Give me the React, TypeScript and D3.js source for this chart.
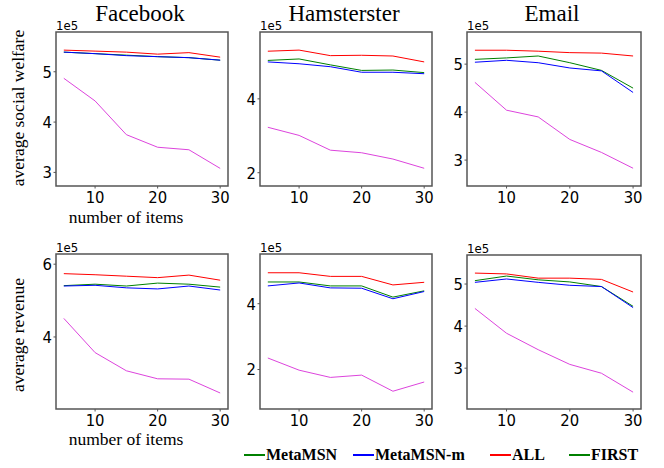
import * as d3 from 'd3'
import React from "react";

const items = [5, 10, 15, 20, 25, 30];

// average social welfare (x1e5)
const fbWelfareAll = [5.43, 5.41, 5.39, 5.35, 5.38, 5.29];
const fbWelfareMeta = [5.39, 5.36, 5.33, 5.30, 5.28, 5.23];
const fbWelfareMetaM = [5.39, 5.36, 5.32, 5.30, 5.28, 5.23];
const fbWelfareOther = [4.87, 4.42, 3.75, 3.50, 3.45, 3.08];

const hamWelfareAll = [5.29, 5.32, 5.17, 5.18, 5.16, 5.00];
const hamWelfareMeta = [5.04, 5.08, 4.92, 4.77, 4.78, 4.71];
const hamWelfareMetaM = [5.00, 4.95, 4.87, 4.72, 4.72, 4.68];
const hamWelfareOther = [3.23, 3.01, 2.61, 2.54, 2.37, 2.12];

const emWelfareAll = [5.29, 5.29, 5.27, 5.24, 5.23, 5.17];
const emWelfareMeta = [5.10, 5.13, 5.17, 5.03, 4.87, 4.50];
const emWelfareMetaM = [5.04, 5.08, 5.03, 4.92, 4.86, 4.41];
const emWelfareOther = [4.62, 4.04, 3.90, 3.43, 3.16, 2.83];

// average revenue (x1e5)
const fbRevAll = [5.74, 5.71, 5.67, 5.63, 5.70, 5.56];
const fbRevMeta = [5.41, 5.45, 5.40, 5.48, 5.45, 5.37];
const fbRevMetaM = [5.40, 5.42, 5.35, 5.32, 5.40, 5.29];
const fbRevOther = [4.51, 3.57, 3.07, 2.85, 2.84, 2.46];

const hamRevAll = [4.94, 4.94, 4.83, 4.83, 4.57, 4.65];
const hamRevMeta = [4.66, 4.66, 4.54, 4.54, 4.20, 4.39];
const hamRevMetaM = [4.54, 4.63, 4.48, 4.47, 4.15, 4.37];
const hamRevOther = [2.35, 1.98, 1.76, 1.83, 1.34, 1.62];

const emRevAll = [5.26, 5.24, 5.14, 5.14, 5.11, 4.81];
const emRevMeta = [5.08, 5.19, 5.10, 5.05, 4.94, 4.47];
const emRevMetaM = [5.04, 5.12, 5.04, 4.97, 4.94, 4.44];
const emRevOther = [4.42, 3.83, 3.44, 3.09, 2.88, 2.43];

const xTicks = [10, 20, 30];
const legendLabels = ["MetaMSN", "MetaMSN-m", "ALL", "FIRST"];
const legendColors = ["green", "blue", "red", "green"];

const lineColors = ["#dd44dd", "green", "blue", "red"];

const tickStyle: React.CSSProperties = {
    fontFamily: '"DejaVu Sans Condensed", "DejaVu Sans", sans-serif',
    fontStretch: 'condensed',
    fontSize: 16.5,
};
const serifStyle: React.CSSProperties = {
    fontFamily: '"Liberation Serif", "Times New Roman", Times, serif',
    fontSize: 17.5,
};

interface PanelProps {
    left: number; top: number; right: number; bottom: number;
    yDomain: [number, number];
    yTicks: number[];
    series: number[][];
    title?: string;
}

const Panel: React.FC<PanelProps> = ({ left, top, right, bottom, yDomain, yTicks, series, title }) => {
    const x = d3.scaleLinear().domain([3.75, 31.25]).range([left, right]);
    const y = d3.scaleLinear().domain(yDomain).range([bottom, top]);
    const line = d3.line<number>()
        .x((_, i) => x(items[i]))
        .y(d => y(d));
    return (
        <g>
            {title && <text x={(left + right) / 2 - 2} y={21} textAnchor="middle"
                style={{ ...serifStyle, fontSize: 23 }}>{title}</text>}
            {series.map((s, i) => (
                <path key={i} d={line(s) || ""} fill="none" stroke={lineColors[i]} strokeWidth={1} />
            ))}
            <rect x={left} y={top} width={right - left} height={bottom - top}
                fill="none" stroke="#555" strokeWidth={1.5} />
            {yTicks.map(t => (
                <g key={t}>
                    <line x1={left - 2.5} x2={left} y1={y(t)} y2={y(t)} stroke="#555" />
                    <text x={left - 4} y={y(t)} dy="0.36em" textAnchor="end" style={tickStyle}>{t}</text>
                </g>
            ))}
            {xTicks.map(t => (
                <g key={t}>
                    <line x1={x(t)} x2={x(t)} y1={bottom} y2={bottom + 2.5} stroke="#555" />
                    <text x={x(t)} y={bottom + 17} textAnchor="middle" style={tickStyle}>{t}</text>
                </g>
            ))}
            <text x={left} y={top - 2} style={{ ...tickStyle, fontSize: 13 }}>1e5</text>
        </g>
    );
}

const App: React.FC = () => {
    const legendX = [244, 353, 490, 569];
    return (
        <svg width={664} height={468} style={{ position: 'absolute', left: 0, top: 0, background: '#fff' }}>
            <Panel left={56} top={32} right={228} bottom={186} yDomain={[2.73, 5.79]} yTicks={[3, 4, 5]}
                series={[fbWelfareOther, fbWelfareMeta, fbWelfareMetaM, fbWelfareAll]} title="Facebook" />
            <Panel left={260} top={32} right={432} bottom={186} yDomain={[1.64, 5.81]} yTicks={[2, 4]}
                series={[hamWelfareOther, hamWelfareMeta, hamWelfareMetaM, hamWelfareAll]} title="Hamsterster" />
            <Panel left={467} top={32} right={641} bottom={186} yDomain={[2.46, 5.67]} yTicks={[3, 4, 5]}
                series={[emWelfareOther, emWelfareMeta, emWelfareMetaM, emWelfareAll]} title="Email" />

            <Panel left={56} top={254} right={228} bottom={409} yDomain={[2.02, 6.28]} yTicks={[4, 6]}
                series={[fbRevOther, fbRevMeta, fbRevMetaM, fbRevAll]} />
            <Panel left={260} top={254} right={432} bottom={409} yDomain={[0.8, 5.51]} yTicks={[2, 4]}
                series={[hamRevOther, hamRevMeta, hamRevMetaM, hamRevAll]} />
            <Panel left={467} top={255} right={641} bottom={409} yDomain={[2.03, 5.69]} yTicks={[3, 4, 5]}
                series={[emRevOther, emRevMeta, emRevMetaM, emRevAll]} />

            <text transform="translate(24,108) rotate(-90)" textAnchor="middle" style={serifStyle}>
                average social welfare
            </text>
            <text transform="translate(24,335) rotate(-90)" textAnchor="middle" style={serifStyle}>
                average revenue
            </text>
            <text x={126} y={223} textAnchor="middle" style={serifStyle}>number of items</text>
            <text x={126} y={445} textAnchor="middle" style={serifStyle}>number of items</text>

            {legendLabels.map((l, i) => (
                <g key={l}>
                    <line x1={legendX[i]} x2={legendX[i] + 21} y1={455} y2={455} stroke={legendColors[i]} strokeWidth={2} />
                    <text x={legendX[i] + 22} y={460} style={{ ...serifStyle, fontSize: 16, fontWeight: 'bold' }}>{l}</text>
                </g>
            ))}
        </svg>
    );
}

export default App;
